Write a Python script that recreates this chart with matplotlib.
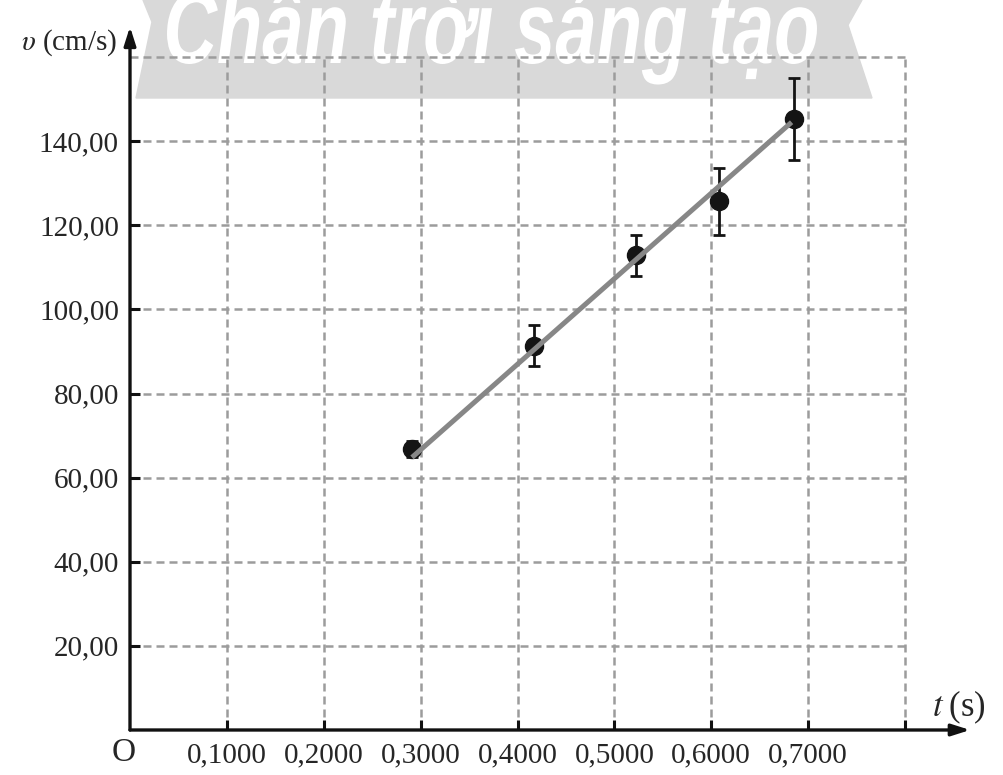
import matplotlib.pyplot as plt
from matplotlib.patches import Polygon, PathPatch
from matplotlib.textpath import TextPath
from matplotlib.font_manager import FontProperties
from matplotlib.transforms import Affine2D
import numpy as np

plt.rcParams['font.family'] = ['Liberation Serif', 'DejaVu Serif']
plt.rcParams['mathtext.fontset'] = 'stix'

# measured points (t in s, v in cm/s)
t = [0.2916, 0.4175, 0.5228, 0.608, 0.685]
v = [66.8, 91.4, 112.9, 125.7, 145.3]
v_err = [2.0, 4.8, 4.9, 7.9, 9.7]

# fitted line
t_fit = [0.293, 0.681]
v_fit = [65.2, 144.1]

x_ticks = [0.1, 0.2, 0.3, 0.4, 0.5, 0.6, 0.7]
x_labels = ['0,1000', '0,2000', '0,3000', '0,4000', '0,5000', '0,6000', '0,7000']
y_ticks = [20, 40, 60, 80, 100, 120, 140]
y_labels = ['20,00', '40,00', '60,00', '80,00', '100,00', '120,00', '140,00']

W, H = 1004, 775
fig = plt.figure(figsize=(W / 100, H / 100), dpi=100)

# watermark banner (pixel coords from the top)
def fx(px): return px / W
def fy(py): return 1 - py / H

band = Polygon([(fx(143), fy(0)), (fx(862), fy(0)), (fx(848), fy(25)), (fx(872), fy(98)),
                (fx(136), fy(98)), (fx(152), fy(22))],
               closed=True, transform=fig.transFigure, color='#d9d9d9', zorder=-3)
fig.patches.append(band)

wm = TextPath((0, 0), 'Chân trời sáng tạo', size=1,
              prop=FontProperties(family='Liberation Sans', style='italic', weight='bold'))
ext = wm.get_extents()
sx = (817 - 167) / ext.width
sy = 55 / 0.53
tr = Affine2D().translate(-ext.x0, 0).scale(sx / W, sy / H).translate(fx(167), fy(63))
fig.patches.append(PathPatch(wm, transform=tr + fig.transFigure, color='white', lw=0, zorder=-2))

ax = fig.add_axes([130 / W, 45 / H, 775 / W, 673 / H])
ax.patch.set_alpha(0)
ax.set_xlim(0, 0.8)
ax.set_ylim(0, 160)
for s in ax.spines.values():
    s.set_visible(False)

# dashed grid
grid_style = dict(color='#9c9c9c', lw=1.8, ls=(0, (3.2, 2)), zorder=1, clip_on=False)
for xv in x_ticks + [0.8]:
    ax.axvline(xv, **grid_style)
for yv in y_ticks + [160]:
    ax.axhline(yv, **grid_style)

# axes with arrows
arrow = dict(arrowstyle='-|>,head_length=1.1,head_width=0.35', color='#111111', lw=2.4,
             shrinkA=0, shrinkB=0)
ax.annotate('', xy=(1.084, 0), xytext=(0, 0), xycoords='axes fraction', arrowprops=arrow)
ax.annotate('', xy=(0, 1.045), xytext=(0, 0), xycoords='axes fraction', arrowprops=arrow)

ax.set_xticks(x_ticks + [0.8])
ax.set_xticklabels(x_labels + [''])
ax.set_yticks(y_ticks)
ax.set_yticklabels(y_labels)
ax.tick_params(direction='in', length=7, width=2.2, color='#111111', labelsize=21,
               labelcolor='#262626')
ax.tick_params(axis='x', pad=9)
ax.tick_params(axis='y', pad=8)

ax.text(-0.0085, -0.034, 'O', transform=ax.transAxes, fontsize=24, ha='center', va='center',
        color='#262626')
ax.text(-0.016, 1.022, r'$\upsilon$ (cm/s)', transform=ax.transAxes, fontsize=21, ha='right',
        va='center', color='#262626')
ax.text(1.035, 0.034, r'$t\;$(s)', transform=ax.transAxes, fontsize=25, ha='left',
        va='center', color='#262626')

ax.plot(t_fit, v_fit, color='#878787', lw=3.6, zorder=4)
ax.errorbar(t, v, yerr=v_err, fmt='o', color='#141414', ms=13, ecolor='#141414',
            elinewidth=2, capsize=4, capthick=2, zorder=3)

fig.savefig('out.png', dpi=100)
